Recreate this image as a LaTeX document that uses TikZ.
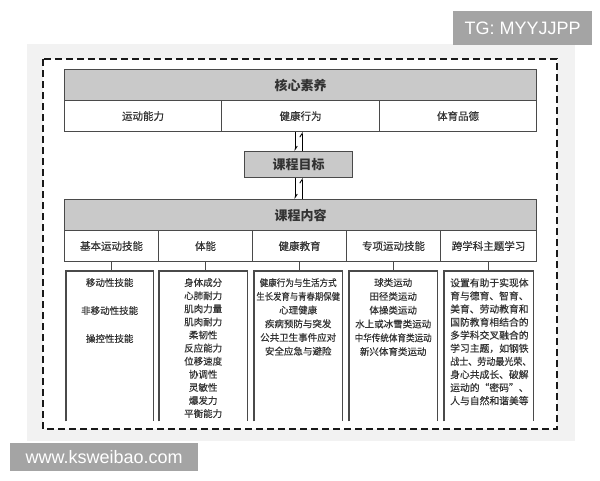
\documentclass[tikz,border=0pt]{standalone}
\usepackage{graphicx}
\usepackage{fontspec}
\setmainfont{Noto Sans CJK SC}
\newfontfamily\cjkmed[FakeBold=0.6]{Noto Sans CJK SC}
\newfontfamily\cjklight[FakeBold=0.3]{Noto Sans CJK SC}
\newfontfamily\latinsans{Liberation Sans}
\usetikzlibrary{arrows.meta}
\definecolor{hdr}{HTML}{C9C9C9}
\definecolor{edgec}{HTML}{4A4A4A}
\definecolor{badgec}{HTML}{A4A4A4}
\definecolor{bgpaper}{HTML}{F2F2F2}
\definecolor{txtc}{HTML}{333333}
\begin{document}
\begin{tikzpicture}[x=1pt,y=-1pt,
  hdrbox/.style={draw=edgec, line width=1.1pt, fill=hdr, anchor=north west, inner sep=0pt,
    text=txtc, font=\fontsize{13}{15}\selectfont\bfseries},
  cellbox/.style={draw=edgec, line width=1.1pt, fill=white, anchor=north west, inner sep=0pt,
    minimum height=31pt, text=txtc, font=\cjkmed\fontsize{10.5}{12}\selectfont},
  detailbox/.style={anchor=north west, inner sep=0pt, minimum height=150pt},
  dline/.style={draw=edgec, line width=1.1pt},
  dtext/.style={anchor=north, inner sep=0pt, align=center, text=txtc},
  conn/.style={draw=edgec, line width=1.1pt},
  harp/.style={draw=black, line width=0.9pt, -{Straight Barb[harpoon, length=3.5pt, width=4.5pt]}},
  badge/.style={fill=badgec, anchor=north west, inner sep=0pt, text=white,
    font=\latinsans\fontsize{18}{20}\selectfont},
]
\useasboundingbox (0,0) rectangle (600,480);
% paper background and dashed frame
\fill[bgpaper] (27,44) rectangle (575,441);
\draw[black!90, line width=2pt, dash pattern=on 7pt off 4pt, fill=white] (43,59) rectangle (557,429);
% badges
\node[badge, minimum width=139pt, minimum height=34pt] (tg) at (453,11) {TG: MYYJJPP};
\node[badge, minimum width=188pt, minimum height=28pt] (www) at (10,443) {www.ksweibao.com};

% core literacy
\node[hdrbox, minimum width=472pt, minimum height=31pt] (core) at (64,69) {核心素养};
\node[cellbox, minimum width=157pt] (c1) at (64,100) {运动能力};
\node[cellbox, minimum width=158pt] (c2) at (221,100) {健康行为};
\node[cellbox, minimum width=157pt] (c3) at (379,100) {体育品德};

% goal
\node[hdrbox, minimum width=108pt, minimum height=26pt] (goal) at (244,151) {课程目标};

% content
\node[hdrbox, minimum width=472pt, minimum height=31pt] (cont) at (64,199) {课程内容};
\node[cellbox, minimum width=94pt] (k1) at (64,230) {基本运动技能};
\node[cellbox, minimum width=94pt] (k2) at (158,230) {体能};
\node[cellbox, minimum width=94pt] (k3) at (252,230) {健康教育};
\node[cellbox, minimum width=94pt] (k4) at (346,230) {专项运动技能};
\node[cellbox, minimum width=96pt] (k5) at (440,230) {跨学科主题学习};

% arrows
\draw[harp] ([xshift=-3.5pt]goal.north |- c2.south) -- ([xshift=-3.5pt]goal.north);
\draw[harp] ([xshift=3.5pt]goal.north) -- ([xshift=3.5pt]goal.north |- c2.south);
\draw[harp] ([xshift=-3.5pt]goal.south) -- ([xshift=-3.5pt]goal.south |- cont.north);
\draw[harp] ([xshift=3.5pt]goal.south |- cont.north) -- ([xshift=3.5pt]goal.south);

% detail boxes (open at the bottom)
\node[detailbox, minimum width=87pt] (d1) at (66,271) {};
\node[detailbox, minimum width=88pt] (d2) at (159,271) {};
\node[detailbox, minimum width=88pt] (d3) at (254,271) {};
\node[detailbox, minimum width=88pt] (d4) at (349,271) {};
\node[detailbox, minimum width=89pt] (d5) at (444,271) {};
\foreach \d in {d1,d2,d3,d4,d5}{
  \draw[dline] (\d.south west) -- (\d.north west) -- (\d.north east) -- (\d.south east);
}
% connectors
\draw[conn] (k1.south) -- (k1.south |- d1.north);
\draw[conn] (k2.south) -- (k2.south |- d2.north);
\draw[conn] (k3.south) -- (k3.south |- d3.north);
\draw[conn] (k4.south) -- (k4.south |- d4.north);
\draw[conn] (k5.south) -- (k5.south |- d5.north);

% texts
\node[dtext, font=\cjklight\fontsize{9.5}{28}\selectfont] (t1) at ([yshift=-7pt]d1.north)
  {移动性技能\\非移动性技能\\操控性技能};
\node[dtext, font=\cjklight\fontsize{9.5}{13.1}\selectfont] (t2) at ([yshift=-7pt]d2.north)
  {身体成分\\心肺耐力\\肌肉力量\\肌肉耐力\\柔韧性\\反应能力\\位移速度\\协调性\\灵敏性\\爆发力\\平衡能力};
\node[dtext, font=\cjklight\fontsize{9.5}{13.7}\selectfont] (t3) at ([yshift=-7pt]d3.north)
  {\scalebox{0.9}[1]{健康行为与生活方式}\\\scalebox{0.88}[1]{生长发育与青春期保健}\\心理健康\\疾病预防与突发\\公共卫生事件应对\\安全应急与避险};
\node[dtext, font=\cjklight\fontsize{9.5}{13.8}\selectfont] (t4) at ([yshift=-7pt]d4.north)
  {球类运动\\田径类运动\\体操类运动\\水上或冰雪类运动\\\scalebox{0.9}[1]{中华传统体育类运动}\\新兴体育类运动};
\node[dtext, align=left, anchor=north west, font=\cjklight\fontsize{9.8}{13.1}\selectfont] (t5) at ([xshift=6pt,yshift=-7pt]d5.north west)
  {设置有助于实现体\\育与德育、智育、\\美育、劳动教育和\\国防教育相结合的\\多学科交叉融合的\\学习主题，如钢铁\\\scalebox{0.92}[1]{战士、劳动最光荣、}\\身心共成长、破解\\运动的“密码”、\\人与自然和谐美等};
\end{tikzpicture}
\end{document}
